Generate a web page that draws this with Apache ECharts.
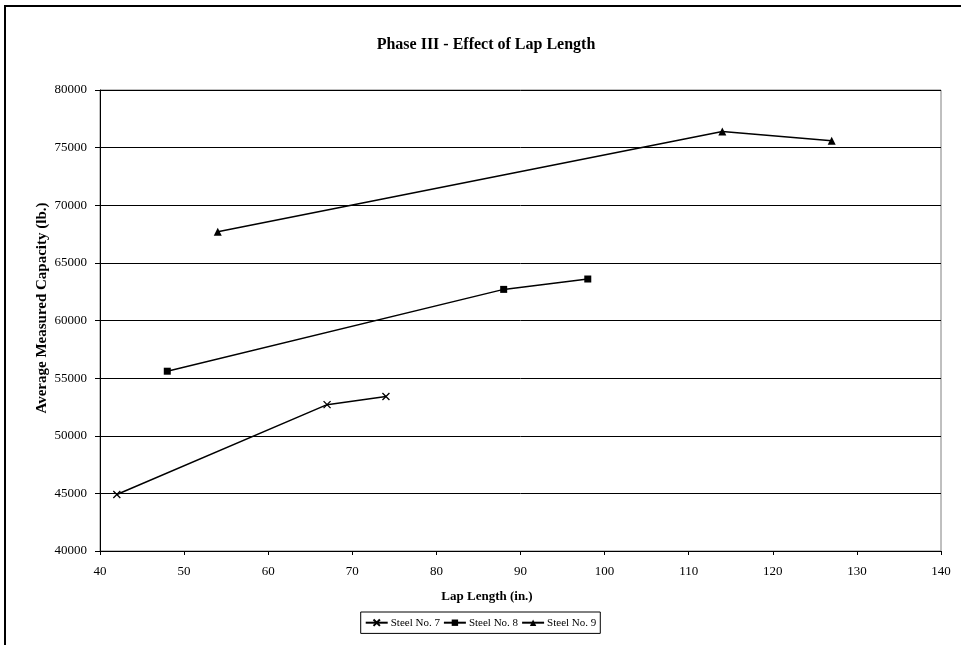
<!DOCTYPE html>
<html>
<head>
<meta charset="utf-8">
<script src="https://cdn.jsdelivr.net/npm/echarts@6/dist/echarts.min.js"></script>
<style>
  html, body { margin: 0; padding: 0; background: #fff; }
  #chart { width: 961px; height: 645px; }
</style>
</head>
<body>
<div id="chart"></div>
<script>
// Lap length (in.) and average measured capacity (lb.) for each bar size
const steel7Lap = [42, 67, 74];
const steel7Cap = [44900, 52700, 53400];
const steel8Lap = [48, 88, 98];
const steel8Cap = [55600, 62700, 63600];
const steel9Lap = [54, 114, 127];
const steel9Cap = [67700, 76400, 75600];

const seriesNames = ['Steel No. 7', 'Steel No. 8', 'Steel No. 9'];
const xTicks = { min: 40, max: 140, interval: 10 };
const yTicks = { min: 40000, max: 80000, interval: 5000 };

const FONT = '"Liberation Serif", "Times New Roman", serif';
const crossPath = 'path://M0,0L10,10M0,10L10,0';

function pairs(xs, ys) { return xs.map((x, i) => [x, ys[i]]); }

const chart = echarts.init(document.getElementById('chart'), null, { renderer: 'canvas' });

function lineSeries(name, data, symbol, size, hollow) {
  return {
    name: name,
    type: 'line',
    data: data,
    symbol: symbol,
    symbolSize: size,
    showAllSymbol: true,
    lineStyle: { color: '#000', width: 1.5 },
    itemStyle: hollow
      ? { color: 'none', borderColor: '#000', borderWidth: 1.3 }
      : { color: '#000', borderColor: '#000', borderWidth: 0 },
    emphasis: { disabled: true },
    animation: false
  };
}

chart.setOption({
  animation: false,
  backgroundColor: '#fff',
  textStyle: { fontFamily: FONT, color: '#000' },
  graphic: [
    {
      type: 'rect',
      shape: { x: 5, y: 6, width: 1000, height: 700 },
      style: { fill: 'none', stroke: '#000', lineWidth: 2 },
      z: 100
    },
    {
      type: 'text',
      x: 486, y: 45,
      style: {
        text: 'Phase III - Effect of Lap Length',
        font: 'bold 16px ' + FONT,
        fill: '#000', align: 'center', verticalAlign: 'middle'
      }
    },
    {
      type: 'text',
      x: 487, y: 597,
      style: {
        text: 'Lap Length (in.)',
        font: 'bold 13px ' + FONT,
        fill: '#000', align: 'center', verticalAlign: 'middle'
      }
    },
    {
      type: 'text',
      x: 42, y: 308,
      rotation: Math.PI / 2,
      style: {
        text: 'Average Measured Capacity (lb.)',
        font: 'bold 15px ' + FONT,
        fill: '#000', align: 'center', verticalAlign: 'middle'
      }
    }
  ],
  grid: { left: 100, right: 20, top: 90, bottom: 94, show: true, borderColor: '#808080', borderWidth: 1 },
  xAxis: {
    type: 'value',
    min: xTicks.min, max: xTicks.max, interval: xTicks.interval,
    axisLine: { show: true, lineStyle: { color: '#000', width: 1 } },
    axisTick: { show: true, length: 4, lineStyle: { color: '#000' } },
    axisLabel: { fontFamily: FONT, fontSize: 13, color: '#000', margin: 14 },
    splitLine: { show: false }
  },
  yAxis: {
    type: 'value',
    min: yTicks.min, max: yTicks.max, interval: yTicks.interval,
    axisLine: { show: true, lineStyle: { color: '#000', width: 1 } },
    axisTick: { show: true, length: 5, lineStyle: { color: '#000' } },
    axisLabel: { fontFamily: FONT, fontSize: 13, color: '#000', margin: 13, formatter: v => String(v) },
    splitLine: { show: true, lineStyle: { color: '#000', width: 1 } }
  },
  legend: {
    data: seriesNames,
    top: 612,
    left: 'center',
    orient: 'horizontal',
    borderColor: '#000',
    borderWidth: 1,
    padding: [5, 4],
    itemGap: 3,
    itemWidth: 22,
    itemHeight: 8,
    textStyle: { fontFamily: FONT, fontSize: 11, color: '#000', padding: [0, 0, 0, -2] }
  },
  series: [
    lineSeries(seriesNames[0], pairs(steel7Lap, steel7Cap), crossPath, 7, true),
    lineSeries(seriesNames[1], pairs(steel8Lap, steel8Cap), 'rect', 7, false),
    lineSeries(seriesNames[2], pairs(steel9Lap, steel9Cap), 'triangle', 8, false)
  ]
});
</script>
</body>
</html>
